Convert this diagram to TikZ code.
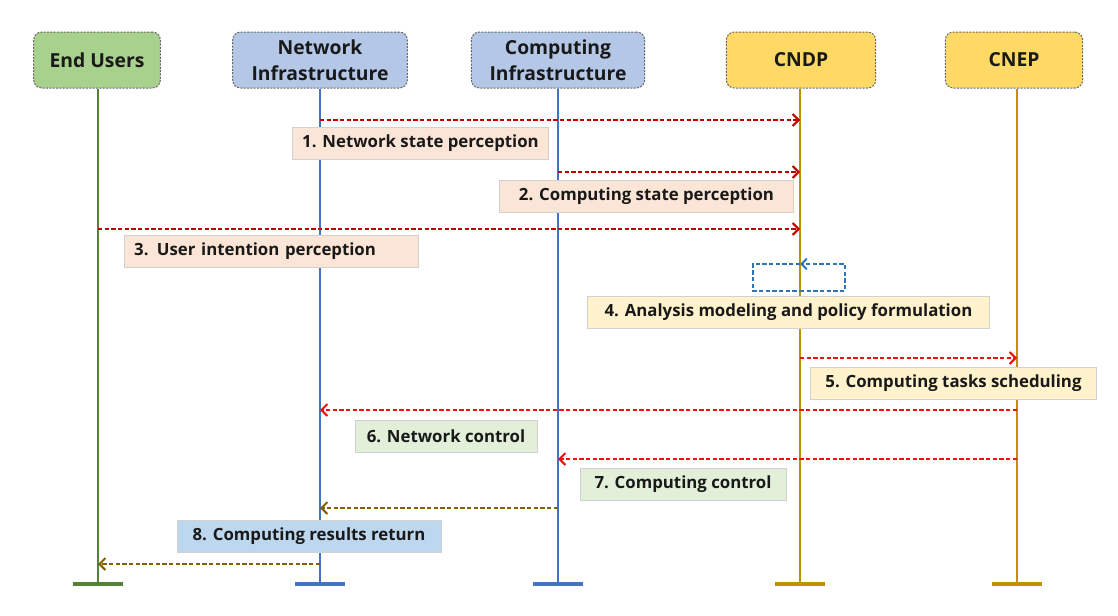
\documentclass[tikz,border=0pt]{standalone}
\usepackage{fontspec}
\setmainfont{Open Sans}
\usetikzlibrary{arrows.meta}

\definecolor{usergreen}{HTML}{A9D18E}
\definecolor{infblue}{HTML}{B4C7E7}
\definecolor{ctrlgold}{HTML}{FFD966}
\definecolor{linegreen}{HTML}{548235}
\definecolor{lineblue}{HTML}{4472C4}
\definecolor{linegold}{HTML}{BF9000}
\definecolor{msgdark}{HTML}{C00000}
\definecolor{msgred}{HTML}{F01010}
\definecolor{msgolive}{HTML}{806000}
\definecolor{loopblue}{HTML}{2E75B6}
\definecolor{peach}{HTML}{FBE5D6}
\definecolor{cream}{HTML}{FFF2CC}
\definecolor{mint}{HTML}{E2F0D9}
\definecolor{sky}{HTML}{BDD7EE}

\tikzset{every picture/.style={line width=0.75pt},
	actor/.style={draw=black!60, dash pattern=on 1.5pt off 1pt, rounded corners=6pt, minimum height=42pt, align=center, text=black!90, font=\bfseries\fontsize{14.5}{19.5}\selectfont},
	life/.style={line width=1.5pt},
	foot/.style={line width=3pt},
	msg/.style={dash pattern=on 3.2pt off 1.8pt, line width=1.5pt, -{Straight Barb[length=4.5pt,width=9pt,line width=1.5pt]}},
	selfloop/.style={loopblue, dash pattern=on 3.2pt off 1.8pt, line width=1.5pt},
	lbl/.style={draw=black!18, inner xsep=7pt, minimum height=24pt, text=black!90, font=\bfseries\fontsize{12.6}{14.5}\selectfont}
}

\begin{document}
\begin{tikzpicture}[x=0.75pt,y=0.75pt,yscale=-1,xscale=1]
	\useasboundingbox (0,0) rectangle (1118,615);
	
	%Shape: Header boxes
	\node[actor, fill=usergreen, minimum width=95pt] (eu) at (97,60) {End Users};
	\node[actor, fill=infblue, minimum width=131pt] (ni) at (320,60) {Network\\Infrastructure};
	\node[actor, fill=infblue, minimum width=130pt] (ci) at (558,60) {Computing\\Infrastructure};
	\node[actor, fill=ctrlgold, minimum width=112pt] (cndp) at (801,60) {CNDP};
	\node[actor, fill=ctrlgold, minimum width=103pt] (cnep) at (1014,60) {CNEP};
	
	%Lifelines
	\foreach \n/\x/\c in {eu/98/linegreen, ni/320/lineblue, ci/558/lineblue, cndp/800/linegold, cnep/1017/linegold}{
		\coordinate (\n-end) at (\x,584);
		\draw[life, \c] (\n-end |- \n.south) -- (\n-end);
		\draw[foot, \c] ([xshift=-18.75pt]\n-end) -- ([xshift=18.75pt]\n-end);
	}
	
	%Messages
	\draw[msg, msgdark] (ni-end |- 0,120) -- (cndp-end |- 0,120);
	\draw[msg, msgdark] (ci-end |- 0,172) -- (cndp-end |- 0,172);
	\draw[msg, msgdark] (eu-end |- 0,229) -- (cndp-end |- 0,229);
	\coordinate (loopA) at (753,264);
	\coordinate (loopB) at (845,291);
	\draw[selfloop, -{Straight Barb[length=4pt,width=8pt,line width=1.5pt]}] (cndp-end |- loopB) -- (loopB) |- (cndp-end |- loopA);
	\draw[selfloop] (cndp-end |- loopA) -- (loopA) |- (cndp-end |- loopB);
	\draw[msg, msgred] (cndp-end |- 0,358) -- (cnep-end |- 0,358);
	\draw[msg, msgred] (cnep-end |- 0,410) -- (ni-end |- 0,410);
	\draw[msg, msgred] (cnep-end |- 0,459) -- (ci-end |- 0,459);
	\draw[msg, msgolive] (ci-end |- 0,508) -- (ni-end |- 0,508);
	\draw[msg, msgolive] (ni-end |- 0,564) -- (eu-end |- 0,564);
	
	%Labels
	\node[lbl, fill=peach, minimum width=191pt] (l1) at (420.5,143) {1. Network state perception};
	\node[lbl, fill=peach, minimum width=220pt] (l2) at (646.5,196) {2. Computing state perception};
	\node[lbl, fill=peach, minimum width=220pt, text width=206pt, align=left] (l3) at (271.5,251.5) {3. User intention perception};
	\node[lbl, fill=cream, minimum width=302pt] (l4) at (788.5,312) {4. Analysis modeling and policy formulation};
	\node[lbl, fill=cream, minimum width=215pt] (l5) at (953.5,383) {5. Computing tasks scheduling};
	\node[lbl, fill=mint, minimum width=136.5pt] (l6) at (446,436) {6. Network control};
	\node[lbl, fill=mint, minimum width=154.5pt] (l7) at (683,484) {7. Computing control};
	\node[lbl, fill=sky, minimum width=198pt] (l8) at (309,536.5) {8. Computing results return};
	
\end{tikzpicture}
\end{document}
